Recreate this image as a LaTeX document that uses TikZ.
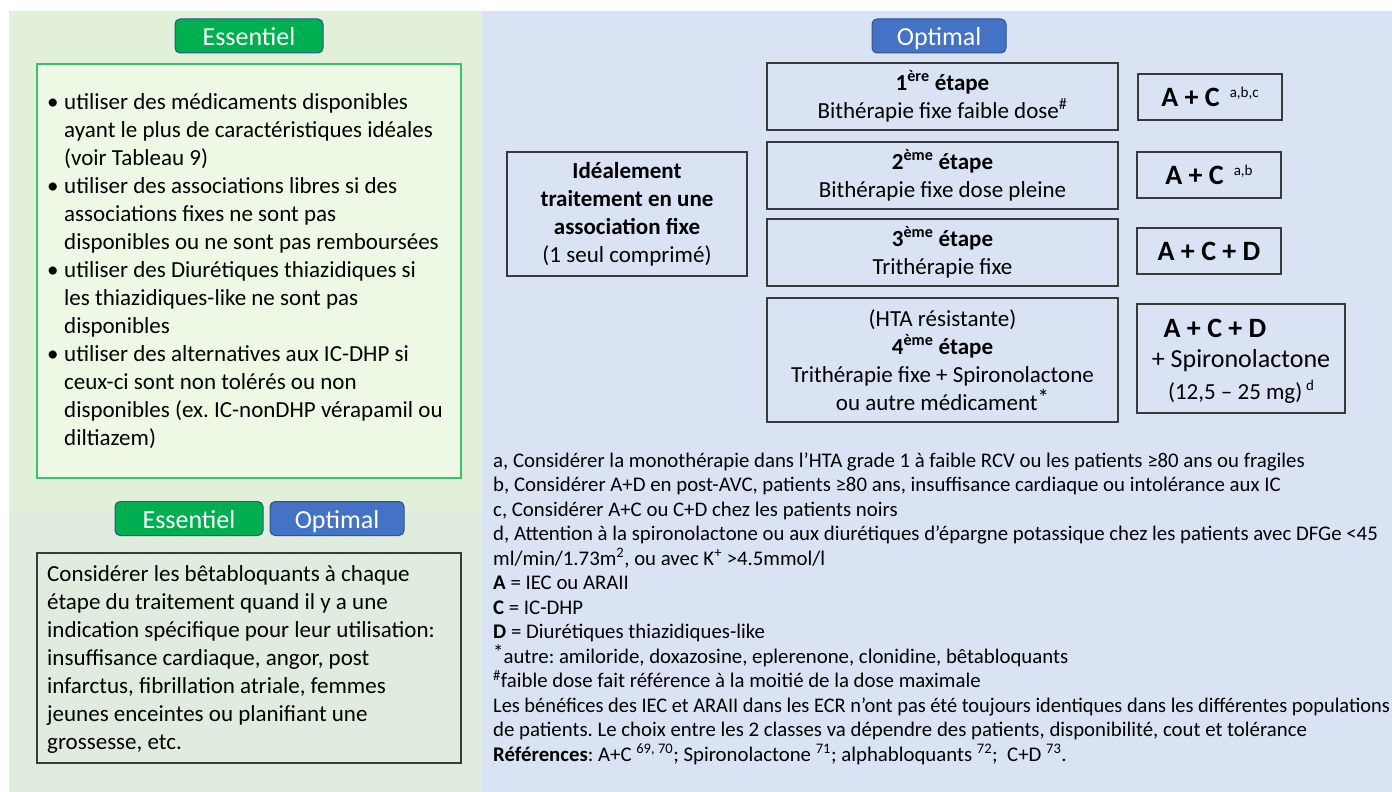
\documentclass[tikz,border=0pt]{standalone}
\usepackage{fontspec}
\setmainfont{Carlito}
\frenchspacing
\usetikzlibrary{patterns}
\definecolor{vertfond}{HTML}{E2F0D9}
\definecolor{bleufond}{HTML}{DAE3F3}
\definecolor{vertbouton}{HTML}{00B050}
\definecolor{bleubouton}{HTML}{4472C4}
\definecolor{bordbouton}{HTML}{2F528F}
\definecolor{vertcadre}{HTML}{EDF9E5}
\definecolor{vertbord}{HTML}{36C46C}
\definecolor{traitgris}{HTML}{3A3A3A}
\colorlet{hachure}{vertfond!35!bleufond}
\newcommand{\Puce}{\makebox[17pt][l]{•}}
\newcommand{\Suite}{\hspace*{17pt}}
\newcommand{\Exposant}[1]{\raisebox{9pt}{\mdseries\fontsize{15}{15}\selectfont #1}}
\newcommand{\Etoile}{\raisebox{0.2em}{*}}

\begin{document}
\begin{tikzpicture}[x=1pt, y=-1pt,
    bouton/.style={draw=bordbouton, line width=1pt, rounded corners=5pt, text=white,
      minimum height=34pt, inner sep=0pt, text height=24pt, text depth=5pt,
      font=\fontsize{26}{30}\selectfont},
    etape/.style={draw=traitgris, line width=1.2pt, minimum width=351pt, align=center,
      inner sep=0pt, font=\fontsize{23}{28}\selectfont},
    combi/.style={draw=traitgris, line width=1.2pt, minimum width=144pt, minimum height=46pt,
      inner sep=0pt, font=\bfseries\fontsize{28}{32}\selectfont},
    texte/.style={align=left, inner sep=0pt, font=\fontsize{23}{28}\selectfont},
    note/.style={align=left, inner sep=0pt, font=\fontsize{20.8}{24.5}\selectfont}]

    \useasboundingbox (0,0) rectangle (1392,792);
    \fill[white] (0,0) rectangle (1392,792);
    \fill[vertfond] (9,11) rectangle (482,792);
    \fill[bleufond] (482,11) rectangle (1392,792);
    \fill[pattern=north east lines, pattern color=hachure] (9,512) rectangle (482,792);

    % colonne essentiel
    \node[bouton, fill=vertbouton, minimum width=148pt] (essHaut) at (249,36) {Essentiel};
    \node[draw=vertbord, fill=vertcadre, line width=1.2pt, minimum width=424pt,
      minimum height=414pt] (cadreEss) at (249,271) {};
    \node[texte, anchor=west] (listeEss) at (47,271) {%
      \Puce utiliser des médicaments disponibles\\
      \Suite ayant le plus de caractéristiques idéales\\
      \Suite (voir Tableau 9)\\
      \Puce utiliser des associations libres si des\\
      \Suite associations fixes ne sont pas\\
      \Suite disponibles ou ne sont pas remboursées\\
      \Puce utiliser des Diurétiques thiazidiques si\\
      \Suite les thiazidiques-like ne sont pas\\
      \Suite disponibles\\
      \Puce utiliser des alternatives aux IC-DHP si\\
      \Suite ceux-ci sont non tolérés ou non\\
      \Suite disponibles (ex. IC-nonDHP vérapamil ou\\
      \Suite diltiazem)};

    \node[bouton, fill=vertbouton, minimum width=148pt] (essBas) at (189,518.5) {Essentiel};
    \node[bouton, fill=bleubouton, minimum width=134pt] (optBas) at (337,518.5) {Optimal};
    \node[draw=traitgris, line width=1.2pt, minimum width=424pt, minimum height=210pt]
      (cadreBeta) at (249,658) {};
    \node[texte, anchor=west] (texteBeta) at (47,659) {%
      Considérer les bêtabloquants à chaque\\
      étape du traitement quand il y a une\\
      indication spécifique pour leur utilisation:\\
      insuffisance cardiaque, angor, post\\
      infarctus, fibrillation atriale, femmes\\
      jeunes enceintes ou planifiant une\\
      grossesse, etc.};

    % colonne optimal
    \node[bouton, fill=bleubouton, minimum width=134pt] (optHaut) at (939,36) {Optimal};
    \node[etape, minimum width=240pt, minimum height=124pt] (ideal) at (627,214)
      {\textbf{Idéalement}\\\textbf{traitement en une}\\\textbf{association fixe}\\(1 seul comprimé)};

    \node[etape, minimum height=67pt] (etape1) at (942.5,96.5)
      {\textbf{1\textsuperscript{ère} étape}\\Bithérapie fixe faible dose\textsuperscript{\#}};
    \node[etape, minimum height=67pt] (etape2) at (942.5,175.5)
      {\textbf{2\textsuperscript{ème} étape}\\Bithérapie fixe dose pleine};
    \node[etape, minimum height=67pt] (etape3) at (942.5,252.5)
      {\textbf{3\textsuperscript{ème} étape}\\Trithérapie fixe};
    \node[etape, minimum height=124pt] (etape4) at (942.5,360)
      {(HTA résistante)\\\textbf{4\textsuperscript{ème} étape}\\Trithérapie fixe + Spironolactone\\ou autre médicament\Etoile};

    \node[combi] (combi1) at (1210,97) {A + C\hspace{10pt}\Exposant{a,b,c}};
    \node[combi] (combi2) at (1209,175) {A + C\hspace{10pt}\Exposant{a,b}};
    \node[combi] (combi3) at (1209,251) {A + C + D};
    \node[combi, minimum width=208pt, minimum height=109pt] (combi4) at (1241,358.5) {};
    \node[font=\bfseries\fontsize{28}{32}\selectfont, inner sep=0pt] (combi4a) at (1215,328) {A + C + D};
    \node[font=\fontsize{26}{30}\selectfont, inner sep=0pt] (combi4b) at (1241,361) {+ Spironolactone};
    \node[font=\fontsize{23}{28}\selectfont, inner sep=0pt] (combi4c) at (1241,392)
      {(12,5 – 25 mg)\,\Exposant{d}};

    % notes
    \node[note, anchor=north west] (notes) at (493,452.5) {%
      a, Considérer la monothérapie dans l’HTA grade 1 à faible RCV ou les patients ≥80 ans ou fragiles\\
      b, Considérer A+D en post-AVC, patients ≥80 ans, insuffisance cardiaque ou intolérance aux IC\\
      c, Considérer A+C ou C+D chez les patients noirs\\
      d, Attention à la spironolactone ou aux diurétiques d’épargne potassique chez les patients avec DFGe <45\\
      ml/min/1.73m\textsuperscript{2}, ou avec K\textsuperscript{+} >4.5mmol/l\\
      \textbf{A} = IEC ou ARAII\\
      \textbf{C} = IC-DHP\\
      \textbf{D} = Diurétiques thiazidiques-like\\
      \Etoile autre: amiloride, doxazosine, eplerenone, clonidine, bêtabloquants\\
      \textsuperscript{\#}faible dose fait référence à la moitié de la dose maximale\\
      \scalebox{0.98}[1]{Les bénéfices des IEC et ARAII dans les ECR n’ont pas été toujours identiques dans les différentes populations}\\
      de patients. Le choix entre les 2 classes va dépendre des patients, disponibilité, cout et tolérance\\
      \textbf{Références}: A+C \textsuperscript{69, 70}; Spironolactone \textsuperscript{71}; alphabloquants \textsuperscript{72};\ \ C+D \textsuperscript{73}.};

\end{tikzpicture}
\end{document}
